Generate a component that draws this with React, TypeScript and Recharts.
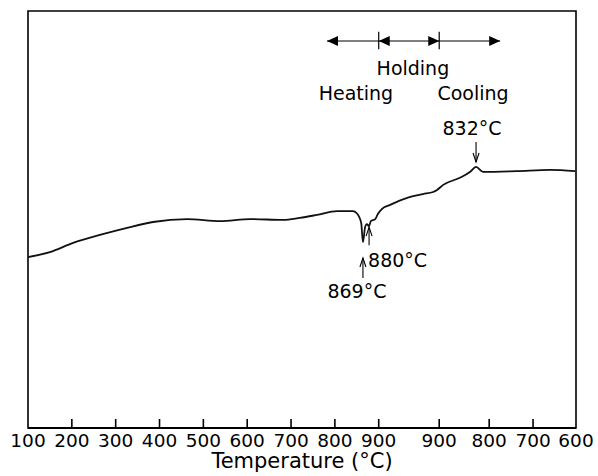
import { LineChart, Line, XAxis, YAxis, ReferenceArea, ReferenceLine, ReferenceDot } from 'recharts'

// x is a running position along the thermal programme (one unit = 100 °C)
const tickPos = [0, 1, 2, 3, 4, 5, 6, 7, 8, 9.38, 10.52, 11.52, 12.5]
const tickLabels = ['100', '200', '300', '400', '500', '600', '700', '800', '900', '900', '800', '700', '600']

const position = [
  0, 0.5, 1.03, 1.64, 2.26, 2.85, 3.63, 4.38, 5.07, 5.82, 6.2, 6.59, 7.05, 7.41, 7.5, 7.6, 7.64,
  7.69, 7.73, 7.78, 7.82, 7.92, 7.98, 8.07, 8.26, 8.65, 9.01, 9.24, 9.33, 9.47, 9.85, 10.08, 10.22,
  10.38, 11.15, 11.91, 12.48,
]
const signal = [
  41.0, 42.2, 44.4, 46.3, 48.0, 49.4, 50.1, 49.6, 50.1, 49.9, 50.4, 51.1, 52.0, 52.0, 51.5, 49.2, 44.6,
  48.2, 48.9, 48.4, 49.6, 50.1, 51.3, 52.5, 53.5, 55.2, 56.1, 56.6, 57.1, 58.3, 60.0, 61.4, 62.6,
  61.4, 61.6, 61.9, 61.6,
]

// phase bar above the trace
const phaseEdges = [6.82, 8, 9.38, 10.77]
const phaseBarLevel = 92.8
const phaseNames = ['Heating', 'Holding', 'Cooling']
const phaseLabelPos = [7.48, 8.78, 10.15]
const phaseLabelLevel = [78.7, 84.7, 78.7]

const FONT = '"DejaVu Sans", sans-serif'

const data = position.map((p, i) => ({ pos: p, signal: signal[i] }))

function AxisTick(props: any) {
  const { x, y, payload } = props
  const idx = tickPos.indexOf(payload.value)
  const inner = idx > 0 && idx < tickPos.length - 1
  return (
    <g>
      {inner && <line x1={x} x2={x} y1={y - 9} y2={y} stroke="#000" strokeWidth={1.6} />}
      <text x={x} y={y + 19} textAnchor="middle" fontFamily={FONT} fontSize={18.5} fill="#000">
        {tickLabels[idx]}
      </text>
    </g>
  )
}

const headShape = (dir: number) => (p: any) => {
  const { cx, cy } = p
  return <path d={`M${cx},${cy} L${cx - dir * 11},${cy - 5} L${cx - dir * 11},${cy + 5} Z`} fill="#000" />
}

const textShape = (label: string) => (p: any) => (
  <text x={p.cx} y={p.cy} textAnchor="middle" fontFamily={FONT} fontSize={19} fill="#000">
    {label}
  </text>
)

// thin arrow with an open head; tail/tip are offsets from the marked point
const pointer = (dx: number, tail: number, tip: number, label: string, tx: number, ty: number, anchor: string) =>
  (p: any) => {
    const x = p.cx + dx
    const y1 = p.cy + tail
    const y2 = p.cy + tip
    const s = tip > tail ? -1 : 1
    return (
      <g>
        <line x1={x} x2={x} y1={y1} y2={y2} stroke="#000" strokeWidth={1.1} />
        <path d={`M${x - 3},${y2 + s * 9} L${x},${y2} L${x + 3},${y2 + s * 9}`} fill="none" stroke="#000" strokeWidth={1.1} />
        <text x={p.cx + tx} y={p.cy + ty} textAnchor={anchor} fontFamily={FONT} fontSize={19} fill="#000">
          {label}
        </text>
      </g>
    )
  }

export default function App() {
  return (
    <div style={{ position: 'absolute', left: 0, top: 0, background: '#fff' }}>
      <LineChart width={598} height={476} data={data} margin={{ top: 11, right: 22, left: 28, bottom: 8 }}>
        <XAxis
          type="number"
          dataKey="pos"
          domain={[0, 12.5]}
          ticks={tickPos}
          interval={0}
          height={40}
          tickLine={false}
          tickSize={0}
          tickMargin={0}
          axisLine={{ stroke: '#000', strokeWidth: 2 }}
          tick={<AxisTick />}
        />
        <YAxis type="number" domain={[0, 100]} hide />
        <ReferenceArea x1={0} x2={12.5} y1={0} y2={100} fill="none" stroke="#000" strokeWidth={1.6} />
        <Line dataKey="signal" type="monotone" stroke="#111" strokeWidth={1.8} dot={false} isAnimationActive={false} />

        <ReferenceLine
          segment={[{ x: phaseEdges[0], y: phaseBarLevel }, { x: phaseEdges[3], y: phaseBarLevel }]}
          stroke="#000"
          strokeWidth={1.2}
        />
        {[phaseEdges[1], phaseEdges[2]].map((x) => (
          <ReferenceLine key={x} segment={[{ x, y: 90.8 }, { x, y: 95 }]} stroke="#000" strokeWidth={1.2} />
        ))}
        <ReferenceDot x={phaseEdges[0]} y={phaseBarLevel} shape={headShape(-1)} />
        <ReferenceDot x={phaseEdges[1]} y={phaseBarLevel} shape={headShape(-1)} />
        <ReferenceDot x={phaseEdges[2]} y={phaseBarLevel} shape={headShape(1)} />
        <ReferenceDot x={phaseEdges[3]} y={phaseBarLevel} shape={headShape(1)} />
        {phaseNames.map((name, i) => (
          <ReferenceDot key={name} x={phaseLabelPos[i]} y={phaseLabelLevel[i]} shape={textShape(name)} />
        ))}

        {/* transformation points */}
        <ReferenceDot x={position[16]} y={signal[16]} shape={pointer(0, 36, 16, '869°C', -6, 56, 'middle')} />
        <ReferenceDot x={position[19]} y={signal[19]} shape={pointer(0, 19, 1, '880°C', -1, 41, 'start')} />
        <ReferenceDot x={position[32]} y={signal[32]} shape={pointer(0, -25, -5, '832°C', -4, -32, 'middle')} />
      </LineChart>
      <div
        style={{
          position: 'absolute',
          left: 28,
          width: 548,
          top: 451,
          textAlign: 'center',
          fontFamily: FONT,
          fontSize: 21,
          lineHeight: '20px',
        }}
      >
        Temperature (°C)
      </div>
    </div>
  )
}
